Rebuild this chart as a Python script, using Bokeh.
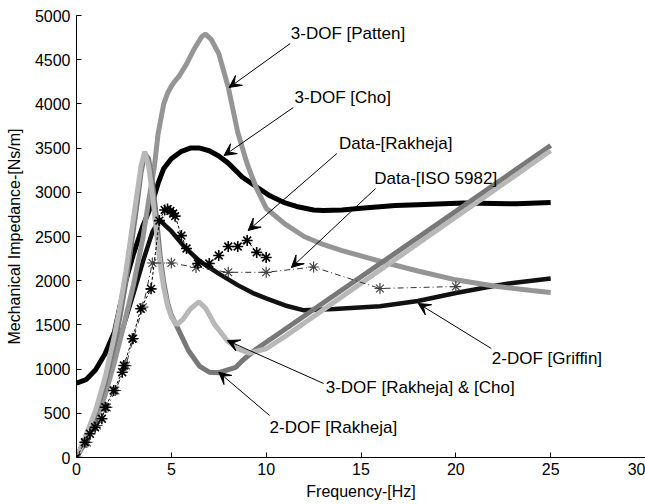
from bokeh.plotting import figure
from bokeh.models import Arrow, VeeHead, Label, Range1d, FixedTicker
from bokeh.embed import file_html
from bokeh.resources import INLINE

# ---------------- data ----------------
x_ticks = [0, 5, 10, 15, 20, 25, 30]
y_ticks = [0, 500, 1000, 1500, 2000, 2500, 3000, 3500, 4000, 4500, 5000]

patten_x = [0, 0.5, 1, 1.5, 2, 2.5, 3, 3.5, 3.8, 4.1, 4.3, 4.6, 4.8, 5.0, 5.2, 5.4, 5.8, 6.2, 6.6, 6.8, 7.1, 7.5,
            8.0, 8.5, 9.0, 9.5, 10, 11, 12, 13, 14, 15, 16, 18, 20, 22, 24, 25]
patten_y = [0, 180, 400, 700, 1080, 1500, 1950, 2480, 2900, 3280, 3660, 4000, 4120, 4200, 4260, 4310, 4450, 4620, 4760, 4790, 4730, 4570,
            4190, 3680, 3320, 3040, 2820, 2640, 2500, 2410, 2340, 2280, 2220, 2110, 2010, 1940, 1890, 1866]

cho_x = [0, 0.5, 1, 1.5, 2, 2.3, 2.6, 3, 3.5, 4, 4.3, 4.6, 5, 5.5, 6, 6.5, 7, 7.5, 8, 8.75, 9.5, 10.2,
         11, 11.6, 12.5, 13, 14, 15, 16.8, 18, 20.4, 23.2, 25]
cho_y = [840, 880, 990, 1170, 1420, 1720, 2000, 2300, 2620, 2880, 3100, 3270, 3380, 3460, 3500, 3500, 3470, 3410, 3330, 3170, 3060, 2960,
         2880, 2840, 2800, 2795, 2800, 2820, 2850, 2860, 2880, 2870, 2885]

griffin_x = [0, 1, 2, 3, 3.55, 4, 4.37, 4.7, 5, 5.7, 6.5, 7.5, 8.5, 9.3, 10, 11, 12, 13.6, 16, 18, 20, 22, 23, 25]
griffin_y = [0, 480, 1150, 1850, 2250, 2550, 2690, 2620, 2560, 2380, 2220, 2080, 1950, 1860, 1800, 1720, 1665, 1680, 1710, 1770, 1860, 1940, 1975, 2025]

rak2_x = [0, 0.5, 1, 1.5, 2, 2.3, 2.6, 2.9, 3.2, 3.4, 3.6, 3.8, 4.0, 4.2, 4.4, 4.6, 4.8, 5.0, 5.3, 5.9, 6.5, 7.0, 7.5, 8.4, 8.75, 9.5, 10.9, 15, 20, 25]
rak2_y = [0, 220, 490, 840, 1280, 1600, 1980, 2420, 2880, 3220, 3440, 3380, 3120, 2750, 2300, 1980, 1750, 1610, 1480, 1210, 1030, 965, 960, 1020, 1097, 1230, 1437, 2044, 2784, 3530]

rak3_x = [0, 0.5, 1, 1.5, 2, 2.3, 2.6, 2.9, 3.2, 3.4, 3.6, 3.8, 4.0, 4.2, 4.4, 4.6, 4.8, 5.0, 5.27, 5.6, 6.0, 6.45, 6.8, 7.3, 7.95, 8.5, 9.1, 10, 11, 25]
rak3_y = [0, 250, 530, 900, 1380, 1720, 2100, 2550, 3000, 3300, 3460, 3300, 2980, 2580, 2200, 1920, 1720, 1590, 1500, 1560, 1680, 1760, 1690, 1500, 1320, 1230, 1180, 1230, 1370, 3470]

data_rak_x = [0, 0.44, 0.71, 0.98, 1.34, 1.52, 1.96, 2.41, 2.5, 2.95, 3.39, 3.93, 4.37, 4.65, 4.8, 4.95, 5.1, 5.2,
              5.53, 5.8, 6.4, 7.0, 7.5, 8.0, 8.5, 9.0, 9.5, 10.0]
data_rak_y = [0, 173, 268, 343, 438, 569, 758, 965, 1040, 1343, 1682, 1908, 2680, 2800, 2810, 2790, 2760, 2730,
              2510, 2364, 2195, 2195, 2285, 2387, 2387, 2455, 2320, 2262]

iso_x = [0.55, 1.08, 1.6, 2.05, 2.6, 3.0, 3.5, 4.0, 5.0, 6.3, 8.0, 10.0, 12.5, 16.0, 20.0]
iso_y = [170, 362, 566, 758, 1040, 1346, 1700, 2200, 2200, 2150, 2095, 2095, 2155, 1912, 1934]

# annotations: text, text position, arrow tail, arrow tip (data units)
notes = [
    ("3-DOF [Patten]", 11.3, 4796, 11.27, 4683, 8.05, 4186),
    ("3-DOF [Cho]", 11.5, 4072, 11.43, 3959, 7.78, 3416),
    ("Data-[Rakheja]", 13.84, 3552, 13.73, 3439, 9.05, 2568),
    ("Data-[ISO 5982]", 15.7, 3156, 15.77, 3043, 11.33, 2149),
    ("2-DOF [Griffin]", 21.9, 1120, 21.87, 1233, 18.02, 1742),
    ("3-DOF [Rakheja] & [Cho]", 13.14, 792, 13.03, 837, 7.95, 1323),
    ("2-DOF [Rakheja]", 10.18, 339, 10.18, 475, 7.5, 965),
]

FONT = "Liberation Sans"

p = figure(width=645, height=504, x_range=Range1d(0, 30), y_range=Range1d(0, 5000),
           output_backend="svg", toolbar_location=None,
           min_border_left=76, min_border_right=0, min_border_top=15, min_border_bottom=47)
p.outline_line_color = None
p.grid.visible = False
p.background_fill_color = "white"

p.xaxis.ticker = FixedTicker(ticks=x_ticks)
p.yaxis.ticker = FixedTicker(ticks=y_ticks)
p.axis.major_tick_in = 5
p.axis.major_tick_out = 0
p.axis.minor_tick_in = 0
p.axis.minor_tick_out = 0
p.axis.axis_line_color = "black"
p.axis.major_tick_line_color = "black"
p.axis.major_label_text_font = FONT
p.axis.major_label_text_font_size = "16px"
p.axis.major_label_text_color = "black"
p.axis.axis_label_text_font = FONT
p.axis.axis_label_text_font_size = "16px"
p.axis.axis_label_text_font_style = "normal"
p.axis.axis_label_text_color = "black"
p.xaxis.axis_label = "Frequency-[Hz]"
p.yaxis.axis_label = "Mechanical Impedance-[Ns/m]"
p.xaxis.major_label_standoff = 5
p.xaxis.axis_label_standoff = 5
p.yaxis.major_label_standoff = 6
p.yaxis.axis_label_standoff = 9

# curves
p.line(cho_x, cho_y, line_color="black", line_width=5)
p.line(griffin_x, griffin_y, line_color="#111111", line_width=4.5)
p.line(patten_x, patten_y, line_color="#959595", line_width=5)
p.line(rak2_x, rak2_y, line_color="#787878", line_width=5)
p.line(rak3_x, rak3_y, line_color="#b8b8b8", line_width=5)

p.line(iso_x, iso_y, line_color="#333333", line_width=1, line_dash="6 3 1 3")
p.scatter(iso_x, iso_y, marker="asterisk", size=11, line_color="#444444", line_width=1.2)
p.line(data_rak_x, data_rak_y, line_color="black", line_width=1, line_dash="3 2")
p.scatter(data_rak_x, data_rak_y, marker="asterisk", size=11, line_color="black", line_width=1.6)

for text, tx, ty, ax0, ay0, ax1, ay1 in notes:
    p.add_layout(Arrow(end=VeeHead(size=12, fill_color="black", line_color="black"),
                       x_start=ax0, y_start=ay0, x_end=ax1, y_end=ay1,
                       line_color="black", line_width=1))
    p.add_layout(Label(x=tx, y=ty, text=text, text_font=FONT, text_font_size="17px",
                       text_baseline="middle", text_align="left", text_color="black"))

open("out.html", "w").write(file_html(p, INLINE))
